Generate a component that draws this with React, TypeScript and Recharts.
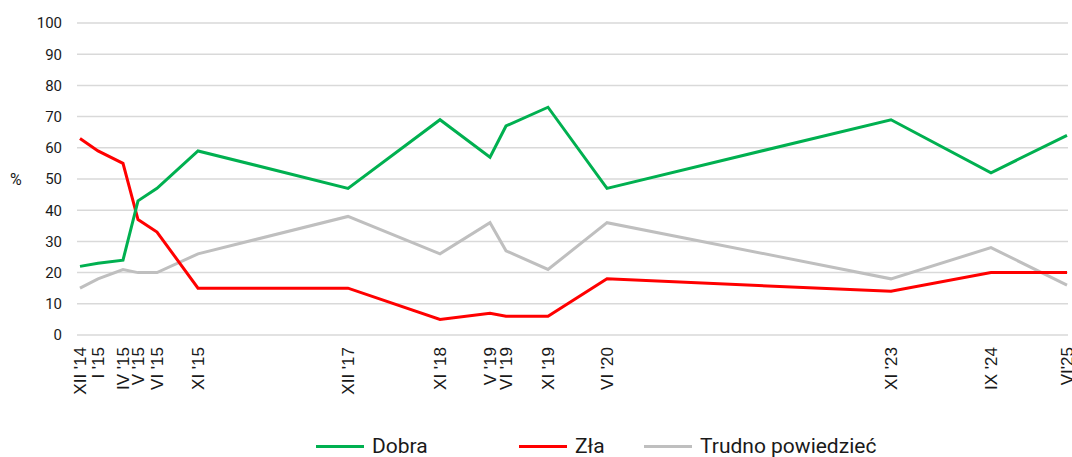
import { LineChart, Line, XAxis, YAxis, CartesianGrid } from "recharts";

// survey waves (x labels) and their spacing along the axis as in the source
const waves = [
  "XII '14", "I '15", "IV '15", "V '15", "VI '15", "XI '15", "XII '17", "XI '18",
  "V '19", "VI '19", "XI '19", "VI '20", "XI '23", "IX '24", "VI'25"
];
const wavePos = [0, 18, 43, 58, 77, 118, 268, 360, 410, 426, 468, 527, 811, 911, 987];

const dobra = [22, 23, 24, 43, 47, 59, 47, 69, 57, 67, 73, 47, 69, 52, 64];
const zla = [63, 59, 55, 37, 33, 15, 15, 5, 7, 6, 6, 18, 14, 20, 20];
const trudno = [15, 18, 21, 20, 20, 26, 38, 26, 36, 27, 21, 36, 18, 28, 16];

const yTicks = [0, 10, 20, 30, 40, 50, 60, 70, 80, 90, 100];

const data = wavePos.map((p, i) => ({
  pos: p,
  dobra: dobra[i],
  zla: zla[i],
  trudno: trudno[i]
}));

const labelOf = (p: number) => waves[wavePos.indexOf(p)] ?? "";

const font = "Roboto, sans-serif";
const tickFont = "'Liberation Sans', Arial, sans-serif";

const WaveTick = (props: any) => {
  const { x, y, payload } = props;
  return (
    <g transform={`translate(${x},${y + 12}) rotate(-90)`}>
      <text x={0} y={0} dy="0.35em" textAnchor="end" fill="#1a1a1a"
        fontSize={17} fontFamily={tickFont}>
        {labelOf(payload.value)}
      </text>
    </g>
  );
};

const legendItems = [
  { name: "Dobra", color: "#00b050", left: 316 },
  { name: "Zła", color: "#ff0000", left: 519 },
  { name: "Trudno powiedzieć", color: "#bfbfbf", left: 644 }
];

export default function App() {
  return (
    <div style={{ position: "absolute", left: 0, top: 0, width: 1072, height: 457, background: "#fff" }}>
      <LineChart width={1072} height={457} data={data}
        margin={{ top: 23, right: 4, bottom: 52, left: 0 }}>
        <CartesianGrid vertical={false} stroke="#d9d9d9" strokeWidth={1.5} />
        <XAxis dataKey="pos" type="number" domain={[-3, 988]} ticks={wavePos}
          interval={0} axisLine={false} tickLine={false} tickSize={0} tickMargin={0}
          height={70} tick={<WaveTick />} />
        <YAxis domain={[0, 100]} ticks={yTicks} width={77} axisLine={false}
          tickLine={false} tickSize={0} tickMargin={15}
          tick={{ fill: "#1a1a1a", fontSize: 15, fontFamily: font }}
          label={{ value: "%", position: "insideLeft", offset: 10, fill: "#1a1a1a", fontSize: 16, fontFamily: font }} />
        <Line type="linear" dataKey="trudno" stroke="#bfbfbf" strokeWidth={3} dot={false} isAnimationActive={false} />
        <Line type="linear" dataKey="zla" stroke="#ff0000" strokeWidth={3} dot={false} isAnimationActive={false} />
        <Line type="linear" dataKey="dobra" stroke="#00b050" strokeWidth={3} dot={false} isAnimationActive={false} />
      </LineChart>
      {legendItems.map(it => (
        <div key={it.name} style={{ position: "absolute", left: it.left, top: 433, display: "flex", alignItems: "center", height: 26 }}>
          <div style={{ width: 48, height: 3, background: it.color, marginRight: 8 }} />
          <span style={{ fontFamily: font, fontSize: 21, color: "#1a1a1a" }}>{it.name}</span>
        </div>
      ))}
    </div>
  );
}
